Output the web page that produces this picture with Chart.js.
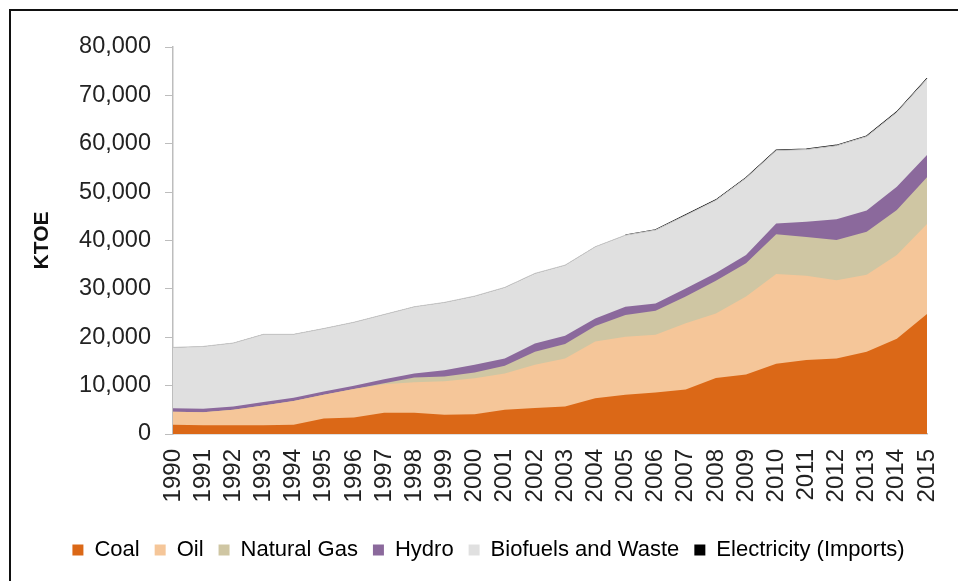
<!DOCTYPE html>
<html lang="en">
<head>
    <meta charset="UTF-8">
    <title>Energy Supply (KTOE)</title>
    <script src="https://cdn.jsdelivr.net/npm/chart.js"></script>
    <style>
        * {
            margin: 0;
            padding: 0;
            box-sizing: border-box;
        }
        body {
            background: #fff;
            width: 958px;
            height: 581px;
            overflow: hidden;
            position: relative;
            font-family: 'Liberation Sans', Arial, sans-serif;
        }
        .frame {
            position: absolute;
            left: 9px;
            top: 9px;
            width: 1000px;
            height: 1000px;
            border: 2px solid #111;
        }
        .chart-container {
            position: absolute;
            left: 0;
            top: 0;
            width: 958px;
            height: 581px;
        }
    </style>
</head>
<body>
    <div class="frame"></div>
    <div class="chart-container">
        <canvas id="energyChart"></canvas>
    </div>

    <script>
        const years = ['1990', '1991', '1992', '1993', '1994', '1995', '1996', '1997', '1998', '1999',
                       '2000', '2001', '2002', '2003', '2004', '2005', '2006', '2007', '2008', '2009',
                       '2010', '2011', '2012', '2013', '2014', '2015'];

        const coal = [1900, 1800, 1800, 1800, 1900, 3200, 3400, 4400, 4400, 4000,
                      4100, 5000, 5400, 5700, 7400, 8100, 8600, 9200, 11600, 12300,
                      14500, 15300, 15600, 17000, 19700, 24800];
        const oil = [2700, 2700, 3200, 4100, 4900, 4900, 5900, 5900, 6300, 6900,
                     7400, 7500, 8900, 9900, 11700, 12000, 11900, 13700, 13300, 16100,
                     18600, 17400, 16200, 15900, 17300, 18600];
        const naturalGas = [0, 0, 0, 0, 0, 0, 0, 200, 1000, 1000,
                            1200, 1600, 2700, 3000, 3200, 4500, 5000, 5500, 6800, 6900,
                            8200, 8000, 8300, 8900, 9300, 9700];
        const hydro = [700, 700, 700, 700, 700, 700, 700, 800, 800, 1300,
                       1600, 1500, 1700, 1700, 1600, 1700, 1500, 1700, 1600, 1700,
                       2200, 3200, 4300, 4400, 4800, 4600];
        const biofuels = [12600, 12900, 13100, 14000, 13100, 13000, 13100, 13400, 13800, 14000,
                          14200, 14700, 14500, 14600, 14800, 14800, 15150, 15100, 15000, 15900,
                          15100, 14900, 15200, 15300, 15400, 15700];
        const electricity = [0, 0, 0, 0, 0, 0, 0, 0, 0, 0,
                             0, 0, 0, 0, 0, 0, 50, 100, 100, 100,
                             100, 100, 100, 100, 100, 100];

        const yTicks = [0, 10000, 20000, 30000, 40000, 50000, 60000, 70000, 80000];

        const fontFamily = "'Liberation Sans', Arial, sans-serif";

        function area(label, data, color, border) {
            return {
                label: label,
                data: data,
                backgroundColor: color,
                borderColor: border || color,
                borderWidth: border ? 1 : 0,
                fill: true,
                pointRadius: 0,
                tension: 0
            };
        }

        const elecSet = area('Electricity (Imports)', electricity, '#000000', '#000000');
        elecSet.borderWidth = 1.2;
        elecSet.segment = {
            borderColor: c => electricity[c.p1DataIndex] > 0 ? '#111' : 'rgba(0,0,0,0)'
        };

        const ctx = document.getElementById('energyChart').getContext('2d');
        const energyChart = new Chart(ctx, {
            type: 'line',
            data: {
                labels: years,
                datasets: [
                    area('Coal', coal, '#DB6817'),
                    area('Oil', oil, '#F5C699'),
                    area('Natural Gas', naturalGas, '#CFC6A3'),
                    area('Hydro', hydro, '#8B699C'),
                    area('Biofuels and Waste', biofuels, '#E0E0E0', '#C8C8C8'),
                    elecSet
                ]
            },
            options: {
                responsive: true,
                maintainAspectRatio: false,
                animation: false,
                layout: {
                    // wider left padding centres the legend like the original
                    padding: { left: 50, right: 31, top: 47, bottom: 10 }
                },
                plugins: {
                    tooltip: { enabled: false },
                    legend: {
                        position: 'bottom',
                        labels: {
                            color: '#222',
                            font: { size: 22, family: fontFamily },
                            boxWidth: 11,
                            boxHeight: 11,
                            padding: 15,
                            generateLabels: chart => chart.data.datasets.map((ds, i) => ({
                                text: ds.label,
                                fillStyle: ds.backgroundColor,
                                strokeStyle: ds.backgroundColor,
                                lineWidth: 0,
                                datasetIndex: i
                            }))
                        }
                    }
                },
                scales: {
                    x: {
                        stacked: true,
                        offset: false,
                        grid: { display: false },
                        border: { color: '#BDBDBD', width: 1.5 },
                        ticks: {
                            color: '#222',
                            font: { size: 24, family: fontFamily },
                            minRotation: 90,
                            maxRotation: 90,
                            autoSkip: false,
                            padding: 7
                        },
                        afterFit: scale => {
                            scale.height = 90;
                            scale.paddingLeft = 0;
                            scale.paddingRight = 0;
                        }
                    },
                    y: {
                        stacked: true,
                        min: 0,
                        max: 80000,
                        afterBuildTicks: scale => { scale.ticks = yTicks.map(v => ({ value: v })); },
                        grid: {
                            drawOnChartArea: false,
                            tickLength: 8,
                            color: '#BDBDBD'
                        },
                        border: { color: '#BDBDBD', width: 1.5 },
                        ticks: {
                            color: '#222',
                            font: { size: 23.5, family: fontFamily },
                            padding: 14,
                            callback: v => v.toLocaleString('en-US')
                        },
                        title: {
                            display: true,
                            text: 'KTOE',
                            color: '#111',
                            font: { size: 21, weight: 'bold', family: fontFamily },
                            padding: { top: -20, bottom: 0 }
                        },
                        afterFit: scale => { scale.width = 123; }
                    }
                }
            }
        });
    </script>
</body>
</html>
